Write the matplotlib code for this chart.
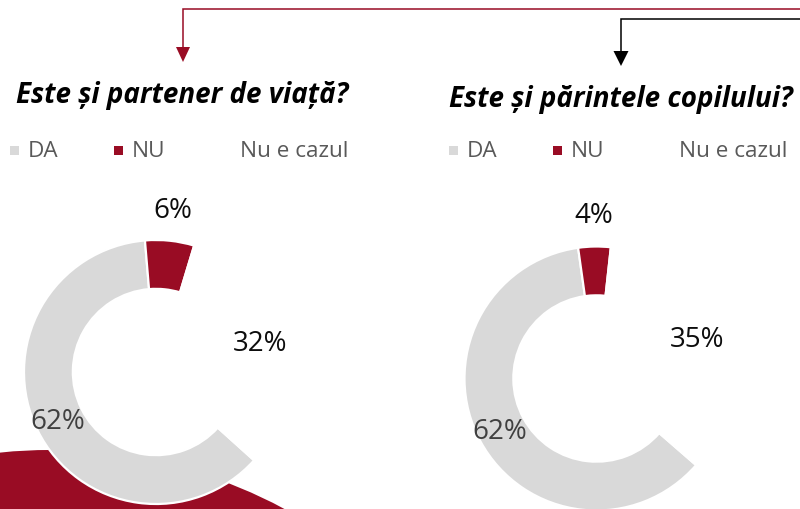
import matplotlib
matplotlib.use("Agg")
import matplotlib.pyplot as plt
from matplotlib.patches import Circle, Polygon
import numpy as np

plt.rcParams['font.family'] = ['Open Sans', 'DejaVu Sans']

categories = ["DA", "NU", "Nu e cazul"]
titles = ["Este și partener de viață?", "Este și părintele copilului?"]
values_partner = [62, 6, 32]
values_parent = [62, 4, 35]
colors = ["#D9D9D9", "#990C24", "#FFFFFF"]
label_colors = ["#404040", "#0D0D0D", "#0D0D0D"]

W, H = 800, 510
fig = plt.figure(figsize=(W / 100, H / 100), dpi=100)
ov = fig.add_axes([0, 0, 1, 1])
ov.set_xlim(0, W)
ov.set_ylim(H, 0)
ov.axis("off")

# decorative blob
ov.add_patch(Circle((50, 947), 496, facecolor="#990C24", edgecolor="none", zorder=0))

RED = "#990C24"
# arrows
ov.plot([183, 183, W + 5], [48, 9.5, 9.5], color=RED, lw=1.1, solid_joinstyle="miter")
ov.add_patch(Polygon([[176, 48], [190, 48], [183, 63]], closed=True, facecolor=RED, edgecolor="none"))
ov.plot([621, 621, W + 5], [52, 19.5, 19.5], color="black", lw=1.1, solid_joinstyle="miter")
ov.add_patch(Polygon([[613.5, 52], [628.5, 52], [621, 67]], closed=True, facecolor="black", edgecolor="none"))

R = 132.0
panels = [
    dict(vals=values_partner, title=titles[0], cx=156, cy=373, start=-42, tx=182.5, ty=103, lx=10),
    dict(vals=values_parent, title=titles[1], cx=596.5, cy=379.5, start=-41, tx=620.5, ty=107, lx=449),
]
label_r = [0.835, 1.235, 0.82]

for p in panels:
    # title
    ov.text(p["tx"], p["ty"], p["title"], ha="center", va="baseline", fontsize=20,
            fontweight="bold", fontstyle="italic", color="black")
    # legend
    x = p["lx"]
    offs = [0, 104, 212]
    for i, (cat, col) in enumerate(zip(categories, colors)):
        xs = x + offs[i]
        ov.add_patch(plt.Rectangle((xs, 147), 9, 9, facecolor=col, edgecolor="none"))
        ov.text(xs + 18, 152, cat, ha="left", va="center", fontsize=16.2, color="#595959")
    # donut
    ax = fig.add_axes([(p["cx"] - R) / W, (H - p["cy"] - R) / H, 2 * R / W, 2 * R / H])
    ax.set_zorder(2)
    ax.patch.set_alpha(0)
    wedges, _ = ax.pie(p["vals"], colors=colors, startangle=p["start"], counterclock=False,
                       wedgeprops=dict(width=0.37, edgecolor="white", linewidth=1.6))
    ax.set_xlim(-1, 1)
    ax.set_ylim(-1, 1)
    ax.set_aspect("equal")
    ax.axis("off")
    for w, v, r, lc in zip(wedges, p["vals"], label_r, label_colors):
        ang = np.deg2rad((w.theta1 + w.theta2) / 2)
        ax.text(r * np.cos(ang), r * np.sin(ang), f"{v}%", ha="center", va="center",
                fontsize=20, color=lc, clip_on=False)

fig.savefig("out.png", dpi=100)
